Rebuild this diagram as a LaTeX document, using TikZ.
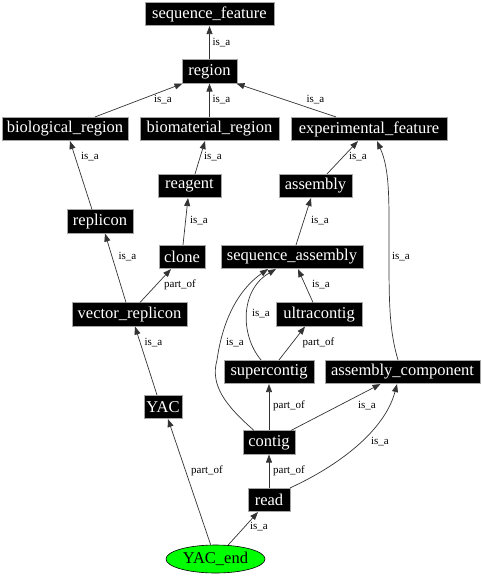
\documentclass[tikz,border=0pt]{standalone}
\usepackage{fontspec}
\setmainfont{Liberation Serif}
\usetikzlibrary{arrows.meta,shapes.geometric}
\tikzset{
  box/.style={fill=black,draw=gray!70,line width=0.6pt,text=white,inner sep=0pt,minimum height=23.5pt,font=\fontsize{16.5}{18}\selectfont},
  lbl/.style={inner sep=0pt,font=\fontsize{11}{12}\selectfont},
  edge/.style={draw=black!80,line width=0.7pt,-{Triangle[length=8pt,width=6pt]}}
}
\begin{document}
\begin{tikzpicture}[x=1pt,y=-1pt]
\useasboundingbox (0,0) rectangle (483,576);
\node[box,minimum width=129pt] (seqfeat) at (209.5,14) {sequence\_feature};
\node[box,minimum width=55pt] (region) at (209.5,71.5) {region};
\node[box,minimum width=126pt] (bio) at (65,129) {biological\_region};
\node[box,minimum width=139pt] (biomat) at (209.5,129) {biomaterial\_region};
\node[box,minimum width=156pt] (exp) at (369,129) {experimental\_feature};
\node[box,minimum width=63pt] (reagent) at (189.5,186) {reagent};
\node[box,minimum width=73pt] (assembly) at (315.5,186) {assembly};
\node[box,minimum width=66pt] (replicon) at (100,221.5) {replicon};
\node[box,minimum width=46pt] (clone) at (182,257) {clone};
\node[box,minimum width=142pt] (seqasm) at (292,257) {sequence\_assembly};
\node[box,minimum width=115pt] (vecrep) at (129.5,314.5) {vector\_replicon};
\node[box,minimum width=86pt] (ultra) at (319,314.5) {ultracontig};
\node[box,minimum width=90pt] (super) at (269,372) {supercontig};
\node[box,minimum width=155pt] (asmcomp) at (402.5,372) {assembly\_component};
\node[box,minimum width=38pt] (yac) at (163,407) {YAC};
\node[box,minimum width=52pt] (contig) at (269,442.5) {contig};
\node[box,minimum width=42pt] (read) at (269,500) {read};
\node[ellipse,fill={rgb,255:red,0;green,255;blue,0},draw=black,line width=0.6pt,inner sep=0pt,minimum width=99pt,minimum height=28pt,font=\fontsize{16.5}{18}\selectfont] (yacend) at (215.5,559) {YAC\_end};

\draw[edge] (region.north) -- (seqfeat.south);
\draw[edge] ([xshift=30pt]bio.north) -- ([xshift=-27pt]region.south);
\draw[edge] (biomat.north) -- (region.south);
\draw[edge] ([xshift=-33pt]exp.north) -- ([xshift=27pt]region.south);
\draw[edge] ([xshift=-8pt]replicon.north) -- ([xshift=5pt]bio.south);
\draw[edge] ([xshift=5.5pt]reagent.north) -- ([xshift=-4.5pt]biomat.south);
\draw[edge] ([xshift=11.5pt]assembly.north) -- ([xshift=-11pt]exp.south);
\draw[edge] ([xshift=-4.5pt]asmcomp.north) .. controls (389,330) and (389,300) .. (389,250) .. controls (389,200) and (390,170) .. ([xshift=8pt]exp.south);
\draw[edge] ([xshift=1pt]clone.north) -- ([xshift=-1.5pt]reagent.south);
\draw[edge] ([xshift=4pt]seqasm.north) -- ([xshift=-4.5pt]assembly.south);
\draw[edge] ([xshift=-3.5pt]vecrep.north) -- ([xshift=5pt]replicon.south);
\draw[edge] ([xshift=10.5pt]vecrep.north) -- ([xshift=-11pt]clone.south);
\draw[edge] ([xshift=-6pt]ultra.north) -- ([xshift=6pt]seqasm.south);
\draw[edge] ([xshift=-8pt]super.north) .. controls (240,335) and (240,290) .. ([xshift=-16pt]seqasm.south);
\draw[edge] ([xshift=-15pt]contig.north) .. controls (225,405) and (210,385) .. (217,360) .. controls (224,310) and (245,285) .. ([xshift=-24pt]seqasm.south);
\draw[edge] ([xshift=10pt]super.north) -- ([xshift=-14pt]ultra.south);
\draw[edge] (contig.north) -- (super.south);
\draw[edge] ([xshift=22pt]contig.north) -- ([xshift=-22pt]asmcomp.south);
\draw[edge] (read.north) -- (contig.south);
\draw[edge] ([xshift=21pt]read.north) .. controls (340,465) and (385,430) .. ([xshift=-5.5pt]asmcomp.south);
\draw[edge] (yacend) -- ([xshift=-11pt]read.south);
\draw[edge] (yacend) -- ([xshift=5pt]yac.south);
\draw[edge] ([xshift=-6pt]yac.north) -- ([xshift=5.5pt]vecrep.south);

\node[lbl] (l1) at (221.5,43) {is\_a};
\node[lbl] (l2) at (163,100) {is\_a};
\node[lbl] (l3) at (221.5,100) {is\_a};
\node[lbl] (l4) at (315.5,100) {is\_a};
\node[lbl] (l5) at (90,157) {is\_a};
\node[lbl] (l6) at (213,157) {is\_a};
\node[lbl] (l7) at (358,157) {is\_a};
\node[lbl] (l8) at (401,257) {is\_a};
\node[lbl] (l9) at (199,221) {is\_a};
\node[lbl] (l10) at (320,221) {is\_a};
\node[lbl] (l11) at (127.5,257) {is\_a};
\node[lbl] (l12) at (180,285) {part\_of};
\node[lbl] (l13) at (321,285) {is\_a};
\node[lbl] (l14) at (261,314) {is\_a};
\node[lbl] (l15) at (235,343) {is\_a};
\node[lbl] (l16) at (318.5,343) {part\_of};
\node[lbl] (l23) at (153.5,343) {is\_a};
\node[lbl] (l17) at (289,406) {part\_of};
\node[lbl] (l18) at (367,406) {is\_a};
\node[lbl] (l20) at (380,442) {is\_a};
\node[lbl] (l22) at (207,471) {part\_of};
\node[lbl] (l19) at (289,471) {part\_of};
\node[lbl] (l21) at (259,527) {is\_a};
\end{tikzpicture}
\end{document}
